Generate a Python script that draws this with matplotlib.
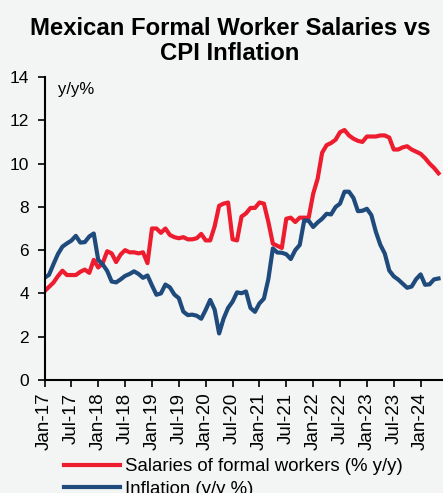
import numpy as np
import pandas as pd
import matplotlib
matplotlib.use("Agg")
import matplotlib.pyplot as plt

plt.rcParams['font.family'] = ['Liberation Sans', 'DejaVu Sans']

months = pd.date_range("2017-01-01", "2024-05-01", freq="MS")

# average wage of IMSS-registered workers, % y/y
salaries = [4.1, 4.3, 4.5, 4.8, 5.05, 4.85, 4.85, 4.85, 5.0, 5.1, 4.95, 5.55,
            5.2, 5.4, 5.95, 5.85, 5.45, 5.8, 6.0, 5.9, 5.9, 5.85, 5.9, 5.4,
            7.0, 7.0, 6.8, 7.0, 6.7, 6.6, 6.55, 6.6, 6.5, 6.5, 6.55, 6.75,
            6.45, 6.45, 7.1, 8.05, 8.15, 8.2, 6.5, 6.45, 7.55, 7.7, 7.95, 7.95,
            8.2, 8.15, 7.3, 6.3, 6.2, 6.1, 7.45, 7.5, 7.3, 7.5, 7.5, 7.5,
            8.6, 9.3, 10.5, 10.85, 10.95, 11.1, 11.45, 11.55, 11.3, 11.15, 11.05, 11.0,
            11.25, 11.25, 11.25, 11.3, 11.3, 11.2, 10.65, 10.65, 10.75, 10.8, 10.65, 10.55,
            10.45, 10.25, 10.0, 9.8, 9.55]

# headline CPI, % y/y
inflation = [4.72, 4.86, 5.35, 5.82, 6.16, 6.31, 6.44, 6.66, 6.35, 6.37, 6.63, 6.77,
             5.55, 5.34, 5.04, 4.55, 4.51, 4.65, 4.81, 4.90, 5.02, 4.90, 4.72, 4.83,
             4.37, 3.94, 4.00, 4.41, 4.28, 3.95, 3.78, 3.16, 3.00, 3.02, 2.97, 2.83,
             3.24, 3.70, 3.25, 2.15, 2.84, 3.33, 3.62, 4.05, 4.01, 4.09, 3.33, 3.15,
             3.54, 3.76, 4.67, 6.08, 5.89, 5.88, 5.81, 5.59, 6.00, 6.24, 7.37, 7.36,
             7.07, 7.28, 7.45, 7.68, 7.65, 7.99, 8.15, 8.70, 8.70, 8.41, 7.80, 7.82,
             7.91, 7.62, 6.85, 6.25, 5.84, 5.06, 4.79, 4.64, 4.45, 4.26, 4.32, 4.66,
             4.88, 4.40, 4.42, 4.65, 4.69]

tick_labels = ["Jan-17", "Jul-17", "Jan-18", "Jul-18", "Jan-19", "Jul-19", "Jan-20",
               "Jul-20", "Jan-21", "Jul-21", "Jan-22", "Jul-22", "Jan-23", "Jul-23",
               "Jan-24"]

bg = "#f3f4f4"
red = "#ed1c2e"
blue = "#1f4a7c"

W, H = 443, 493
fig = plt.figure(figsize=(W / 100, H / 100), dpi=100, facecolor=bg)
ax = fig.add_axes([44.5 / W, (H - 380) / H, (W - 44.5) / W, (380 - 77) / H])
ax.set_facecolor(bg)

x = np.arange(len(months))
ax.plot(x, salaries, color=red, lw=3.0, solid_joinstyle="round",
        label="Salaries of formal workers (% y/y)")
ax.plot(x, inflation, color=blue, lw=3.0, solid_joinstyle="round",
        label="Inflation (y/y %)")

ax.set_xlim(0, 89)
ax.set_ylim(0, 14)
ax.set_yticks(range(0, 15, 2))
ax.set_xticks(np.arange(0, 90, 6)[:len(tick_labels)])
ax.set_xticklabels(tick_labels, rotation=90)
ax.tick_params(axis="both", length=5, width=1.2, direction="out", colors="black")
ax.tick_params(axis="y", labelsize=12.5, pad=6)
ax.tick_params(axis="x", labelsize=13.5, pad=4)
for s in ["top", "right"]:
    ax.spines[s].set_visible(False)
for s in ["left", "bottom"]:
    ax.spines[s].set_linewidth(1.5)

ax.text(3.0, 13.4, "y/y%", fontsize=12, va="center", ha="left")

fig.text(230 / W, 1 - 60 / H, "Mexican Formal Worker Salaries vs\nCPI Inflation",
         ha="center", va="baseline", fontsize=17.2, fontweight="bold",
         linespacing=1.1)

fig.legend(loc="upper left", bbox_to_anchor=(64 / W, 1 - 458 / H), frameon=False,
           fontsize=13.4, handlelength=3.0, handletextpad=0.3, labelspacing=0.3,
           borderaxespad=0, borderpad=0)

fig.savefig("out.png", dpi=100, facecolor=bg)
